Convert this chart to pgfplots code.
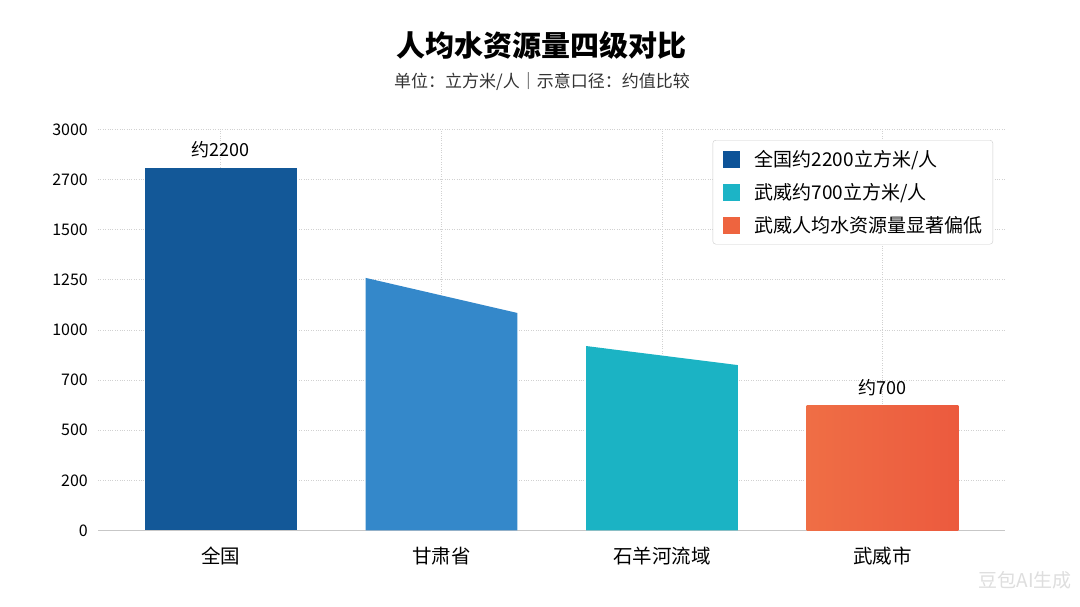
\documentclass[border=0pt]{standalone}
\usepackage{fontspec}
\setmainfont{Noto Sans CJK SC}
\usepackage{pgfplots}
\pgfplotsset{compat=1.18}
\definecolor{cA}{HTML}{135898}
\definecolor{cB}{HTML}{3488CA}
\definecolor{cC}{HTML}{1BB3C4}
\definecolor{cDl}{HTML}{EF6E45}
\definecolor{cDr}{HTML}{EC5A3E}
\definecolor{lA}{HTML}{0D5398}
\definecolor{lB}{HTML}{1CB4C6}
\definecolor{lC}{HTML}{EE643F}
\begin{document}
\begin{tikzpicture}
\fill[white] (0,0) rectangle (1080bp,607bp);
\node[font=\fontsize{29bp}{34bp}\selectfont\bfseries] at (541bp,562bp) {人均水资源量四级对比};
\node[font=\fontsize{17bp}{20bp}\selectfont, text=black!80] at (542bp,525bp) {单位：立方米/人｜示意口径：约值比较};
\begin{axis}[
  at={(98bp,76.5bp)}, anchor=south west,
  width=907bp, height=401bp, scale only axis,
  xmin=-0.557, xmax=3.555, ymin=0, ymax=8,
  xtick={0,1,2,3},
  xticklabels={全国,甘肃省,石羊河流域,武威市},
  ytick={0,1,2,3,4,5,6,7,8},
  yticklabels={0,200,500,700,1000,1250,1500,2700,3000},
  /pgf/number format/assume math mode=true,
  axis x line*=bottom, axis y line*=left,
  x axis line style={draw=black!22, line width=1.3bp, -},
  y axis line style={draw=none},
  major tick length=0pt,
  xmajorgrids, ymajorgrids,
  grid style={black!18, dotted, line width=0.8bp},
  xticklabel style={anchor=center, yshift=-25.5bp, font=\fontsize{19.5bp}{22bp}\selectfont},
  yticklabel style={anchor=east, inner sep=0pt, xshift=-10bp, font=\fontsize{16bp}{19bp}\selectfont},
  legend style={at={(0.9868,0.9738)}, anchor=north east, draw=black!20, rounded corners=3bp,
    font=\fontsize{19bp}{22bp}\selectfont, inner xsep=10bp, inner ysep=2.5bp,
    row sep=0pt, column sep=0pt, nodes={inner sep=0pt}},
  legend cell align=left,
  legend image code/.code={\path[fill=none, draw=none] (1bp,-16.5bp) rectangle (33bp,16.5bp);
    \path[#1, draw=none, sharp corners] (1bp,-8.5bp) rectangle (18bp,8.5bp);},
]
\addplot[draw=none, fill=cA, forget plot] coordinates {(-0.344,0) (-0.344,7.24) (0.344,7.24) (0.344,0)} --cycle;
\addplot[draw=none, fill=cB, forget plot] coordinates {(0.656,0) (0.656,5.04) (1.344,4.34) (1.344,0)} --cycle;
\addplot[draw=none, fill=cC, forget plot] coordinates {(1.656,0) (1.656,3.68) (2.344,3.30) (2.344,0)} --cycle;
\addplot[draw=none, left color=cDl, right color=cDr, forget plot] coordinates {(2.656,0) (2.656,2.50) (3.344,2.50) (3.344,0)} --cycle;
\addlegendimage{fill=lA}
\addlegendentry{全国约2200立方米/人}
\addlegendimage{fill=lB}
\addlegendentry{武威约700立方米/人}
\addlegendimage{fill=lC}
\addlegendentry{武威人均水资源量显著偏低}
\node[font=\fontsize{18bp}{21bp}\selectfont] at (axis cs:0,7.6) {约2200};
\node[font=\fontsize{18bp}{21bp}\selectfont] at (axis cs:3,2.86) {约700};
\end{axis}
\node[font=\fontsize{19bp}{22bp}\selectfont, text=black!13] at (1025bp,27bp) {豆包AI生成};
\end{tikzpicture}
\end{document}
